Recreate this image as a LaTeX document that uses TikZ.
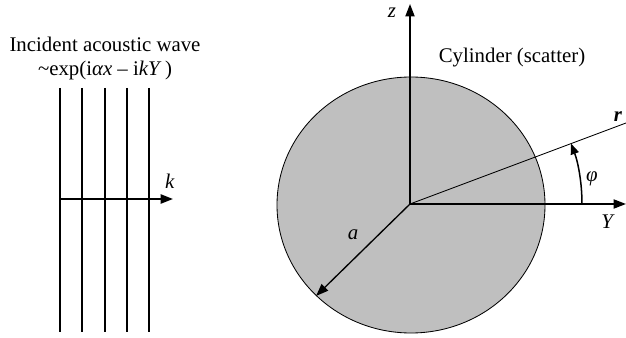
\documentclass[tikz,border=0pt]{standalone}
\usepackage{fontspec}
\setmainfont{Liberation Serif}
\usetikzlibrary{arrows.meta,positioning}

\begin{document}
\begin{tikzpicture}[
  x=0.6pt, y=-0.6pt,
  axis/.style={-{Triangle[length=7.5pt,width=5.5pt]}, line width=1pt},
  wavearr/.style={-{Triangle[length=7.5pt,width=5.5pt]}, line width=1.3pt},
  front/.style={line width=0.9pt},
  ray/.style={line width=0.5pt},
  lbl/.style={font=\fontsize{12.5}{14.4}\selectfont, inner sep=1pt}
]
\useasboundingbox (0,0) rectangle (626,338);
% cylinder
\coordinate (O) at (410,204);
\fill[black!25, draw=black, line width=0.5pt] (411,205) ellipse [x radius=80.4pt, y radius=76.8pt];
\node[lbl] (cyl) at (512,58) {Cylinder (scatter)};
% incident wave
\node[lbl, align=center] (title) at (105,58) {Incident acoustic wave\\\textasciitilde exp(i\textit{αx} – i\textit{kY}\,)};
\foreach \xx [count=\i] in {60,82,105,127,149} {
  \coordinate (f\i a) at (\xx,88);
  \coordinate (f\i b) at (\xx,332);
  \draw[front] (f\i a) -- (f\i b);
}
\coordinate (k0) at (60,199);
\coordinate (k1) at (173,199);
\draw[wavearr] (k0) -- (k1);
\node[lbl] (klabel) at (170,181) {\textit{k}};
% axes
\coordinate (ztip) at (410,4);
\coordinate (Ytip) at (626,204);
\coordinate (rtip) at (626,123);
\coordinate (atip) at (316,296);
\draw[axis] (O) -- (ztip);
\draw[axis] (O) -- (Ytip);
\draw[ray] (O) -- (rtip);
\draw[-{Triangle[length=7.5pt,width=5.5pt]}, line width=0.8pt] (O) -- (atip);
\node[lbl] (zlabel) at (392,13) {\textit{z}};
\node[lbl] (Ylabel) at (608,222) {\textit{Y}};
\node[lbl] (rlabel) at (618,117) {\textbf{\textit{r}}};
\node[lbl] (alabel) at (353,235) {\textit{a}};
% angle
\draw[-{Triangle[length=6.5pt,width=5pt]}, line width=0.9pt] (582,204) arc[start angle=0, end angle=20.6, radius=103.2pt];
\node[lbl] (philabel) at (592,179) {\textit{φ}};
\end{tikzpicture}
\end{document}
